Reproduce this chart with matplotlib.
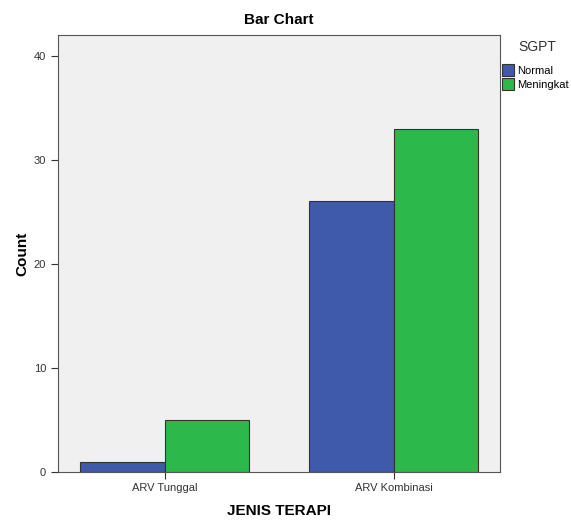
import matplotlib
matplotlib.use('Agg')
import matplotlib.pyplot as plt
import numpy as np
from matplotlib.patches import Patch

plt.rcParams['font.family'] = ['Liberation Sans', 'DejaVu Sans']

# data
categories = ['ARV Tunggal', 'ARV Kombinasi']
series_names = ['Normal', 'Meningkat']
normal_counts = [1, 26]
meningkat_counts = [5, 33]
colors = {'Normal': '#3f59ab', 'Meningkat': '#2db84b'}

fig = plt.figure(figsize=(5.71, 5.21), dpi=100)
ax = fig.add_axes([0.1016, 0.094, 0.7741, 0.839])
ax.set_facecolor('#f0f0f0')

x = np.arange(len(categories))
w = 0.369
ax.bar(x - w/2, normal_counts, w, color=colors['Normal'], edgecolor='#333333', linewidth=0.8)
ax.bar(x + w/2, meningkat_counts, w, color=colors['Meningkat'], edgecolor='#333333', linewidth=0.8)

ax.set_xlim(-0.467, 1.463)
ax.set_ylim(0, 42)
ax.set_yticks([0, 10, 20, 30, 40])
ax.set_xticks(x)
ax.set_xticklabels(categories)
ax.tick_params(axis='both', labelsize=8, colors='#333333', length=5, width=0.8)
ax.tick_params(axis='x', pad=3)
for s in ax.spines.values():
    s.set_color('#555555')
    s.set_linewidth(0.8)

ax.set_ylabel('Count', fontsize=11, fontweight='bold', labelpad=3.5)
ax.set_xlabel('JENIS TERAPI', fontsize=11, fontweight='bold', labelpad=8)
ax.set_title('Bar Chart', fontsize=11, fontweight='bold', pad=8)

# legend title drawn separately to match spacing
fig.text(537 / 571, 1 - 47 / 521, 'SGPT', ha='center', va='center', fontsize=10, color='#333333')
handles = [Patch(facecolor=colors[n], edgecolor='#333333', linewidth=0.8, label=n) for n in series_names]
leg = fig.legend(handles=handles, loc='upper left', bbox_to_anchor=(500 / 571, 1 - 62 / 521),
                 frameon=False, fontsize=8, handlelength=1.1, handleheight=1.2,
                 handletextpad=0.2, labelspacing=0.25, borderaxespad=0, borderpad=0.2)

fig.savefig('out.png', dpi=100, facecolor='white')
